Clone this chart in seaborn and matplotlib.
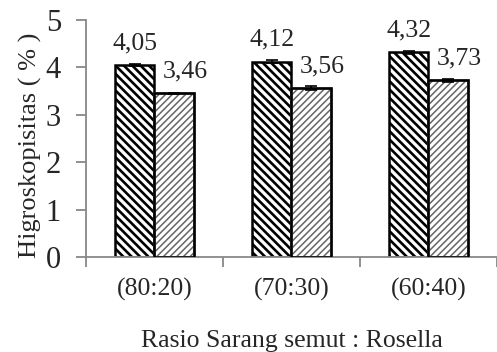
import numpy as np
import matplotlib
matplotlib.use('Agg')
import matplotlib.pyplot as plt
import pandas as pd
import seaborn as sns

rasio = ['(80:20)', '(70:30)', '(60:40)']
seri = ['A', 'B']
nilai_a = [4.05, 4.12, 4.32]
nilai_b = [3.46, 3.56, 3.73]
err_a = [0.03, 0.03, 0.03]
err_b = [0.01, 0.04, 0.03]
label_a = ['4,05', '4,12', '4,32']
label_b = ['3,46', '3,56', '3,73']

df = pd.DataFrame({
    'rasio': rasio * 2,
    'seri': [seri[0]] * 3 + [seri[1]] * 3,
    'nilai': nilai_a + nilai_b,
})

sns.set_style('white')
plt.rcParams['font.family'] = ['Liberation Serif', 'DejaVu Serif']
plt.rcParams['font.size'] = 18.5

fig = plt.figure(figsize=(4.97, 3.52), dpi=100)
ax = fig.add_axes([0.173, 0.27, 0.827, 0.673])

sns.barplot(data=df, x='rasio', y='nilai', hue='seri', order=rasio,
            hue_order=seri, palette=['white', 'white'], width=0.58,
            errorbar=None, legend=False, ax=ax, zorder=2)

bars_a = ax.patches[:3]
bars_b = ax.patches[3:6]
for p in bars_a:
    p.set_hatch('\\\\\\\\')
    p.set_edgecolor('black')
    p.set_linewidth(1.8)
    try:
        p.set_hatch_linewidth(1.9)
    except AttributeError:
        pass
for p in bars_b:
    p.set_hatch('/////')
    p.set_edgecolor('#666666')
    p.set_linewidth(1.8)
    try:
        p.set_hatch_linewidth(1.1)
    except AttributeError:
        pass

# outlines for the light bars in black
for p in bars_b:
    ax.bar(p.get_x() + p.get_width() / 2, p.get_height(), width=p.get_width(),
           fill=False, edgecolor='black', linewidth=1.8, zorder=3)

xa = [p.get_x() + p.get_width() / 2 for p in bars_a]
xb = [p.get_x() + p.get_width() / 2 for p in bars_b]
ax.errorbar(xa, nilai_a, yerr=err_a, fmt='none', ecolor='black',
            elinewidth=1.2, capsize=4, capthick=1.2, zorder=4)
ax.errorbar(xb, nilai_b, yerr=err_b, fmt='none', ecolor='black',
            elinewidth=1.2, capsize=4, capthick=1.2, zorder=4)

for x, v, t in zip(xa, nilai_a, label_a):
    ax.annotate(t, (x, v), xytext=(0, 11.5), textcoords='offset points',
                ha='center', va='baseline')
for x, v, t in zip(xb, nilai_b, label_b):
    ax.annotate(t, (x, v), xytext=(8, 11.5), textcoords='offset points',
                ha='center', va='baseline')

ax.set_xlim(-0.5, 2.5)
ax.set_ylim(0, 5)
ax.set_yticks([0, 1, 2, 3, 4, 5])
ax.set_xticks([-0.5, 0.5, 1.5, 2.5], minor=True)
ax.tick_params(axis='x', which='major', length=0, pad=15)
ax.tick_params(axis='x', which='minor', length=7, width=1.3, color='#888888',
               direction='out', bottom=True)
ax.tick_params(axis='y', length=7, width=1.3, color='#888888',
               direction='out', left=True, pad=11, labelsize=22)

for s in ['top', 'right']:
    ax.spines[s].set_visible(False)
for s in ['left', 'bottom']:
    ax.spines[s].set_color('#888888')
    ax.spines[s].set_linewidth(1.3)

ax.set_xlabel('Rasio Sarang semut : Rosella', labelpad=21)
ax.set_ylabel('Higroskopisitas ( % )', fontsize=19)
ax.yaxis.set_label_coords(-0.108, 0.47)

fig.savefig('out.png', dpi=100)
